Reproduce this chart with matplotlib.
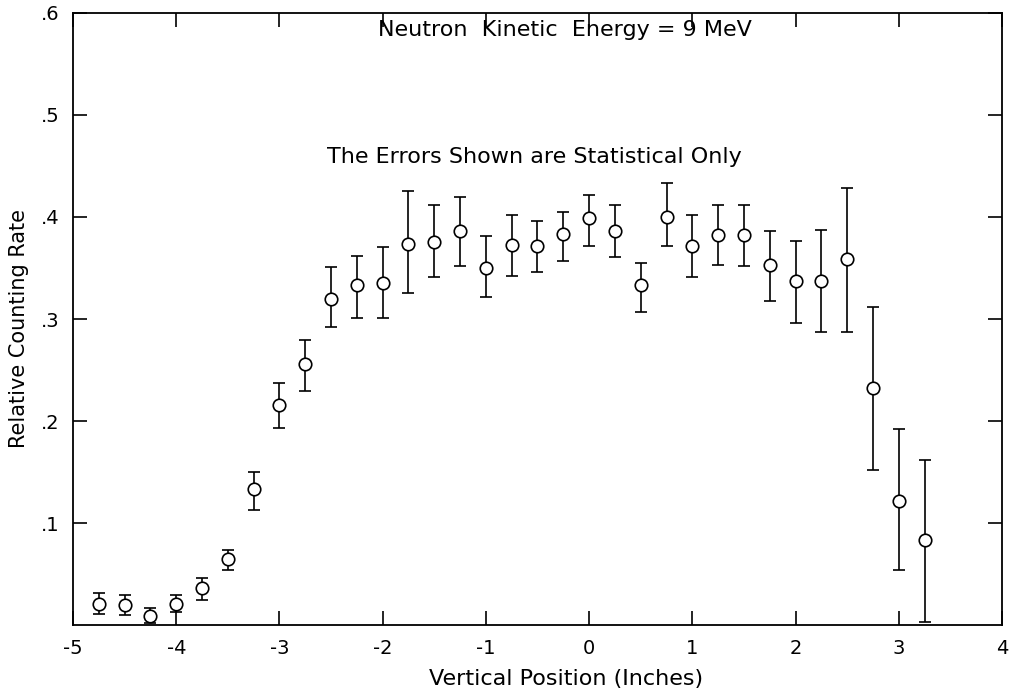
import matplotlib
matplotlib.use("Agg")
import matplotlib.pyplot as plt

x = [-4.75, -4.50, -4.25, -4.00, -3.75, -3.50, -3.25, -3.00, -2.75, -2.50, -2.25,
     -2.00, -1.75, -1.50, -1.25, -1.00, -0.75, -0.50, -0.25, 0.00, 0.25, 0.50,
     0.75, 1.00, 1.25, 1.50, 1.75, 2.00, 2.25, 2.50, 2.75, 3.00, 3.25]
y = [0.021, 0.020, 0.009, 0.021, 0.036, 0.065, 0.133, 0.216, 0.256, 0.320, 0.333,
     0.335, 0.374, 0.375, 0.386, 0.350, 0.373, 0.372, 0.383, 0.399, 0.386, 0.333,
     0.400, 0.372, 0.382, 0.382, 0.353, 0.337, 0.337, 0.359, 0.232, 0.122, 0.083]
y_hi = [0.031, 0.029, 0.017, 0.029, 0.046, 0.074, 0.150, 0.237, 0.279, 0.351, 0.362,
        0.371, 0.425, 0.412, 0.420, 0.381, 0.402, 0.396, 0.405, 0.422, 0.412, 0.355,
        0.433, 0.402, 0.412, 0.412, 0.386, 0.376, 0.387, 0.428, 0.312, 0.192, 0.162]
y_lo = [0.011, 0.010, 0.002, 0.013, 0.025, 0.054, 0.113, 0.193, 0.229, 0.292, 0.301,
        0.301, 0.325, 0.341, 0.352, 0.322, 0.342, 0.346, 0.357, 0.372, 0.361, 0.307,
        0.372, 0.341, 0.353, 0.352, 0.318, 0.296, 0.287, 0.287, 0.152, 0.054, 0.003]

x_ticks = [-5, -4, -3, -2, -1, 0, 1, 2, 3, 4]
y_ticks = [0.1, 0.2, 0.3, 0.4, 0.5, 0.6]
y_tick_labels = [".1", ".2", ".3", ".4", ".5", ".6"]

err_lo = [yi - lo for yi, lo in zip(y, y_lo)]
err_hi = [hi - yi for yi, hi in zip(y, y_hi)]

plt.rcParams['font.family'] = ['DejaVu Sans']
fig = plt.figure(figsize=(10.13, 6.91), dpi=100)
ax = fig.add_axes([0.0721, 0.0955, 0.917, 0.8857])

ax.errorbar(x, y, yerr=[err_lo, err_hi], fmt='o', mfc='white', mec='black',
            ms=9, mew=1.2, ecolor='black', elinewidth=1.2, capsize=4.5,
            capthick=1.5, color='black')

ax.set_xlim(-5, 4)
ax.set_ylim(0, 0.6)
ax.set_xticks(x_ticks)
ax.set_xticklabels([str(t) for t in x_ticks])
ax.set_yticks(y_ticks)
ax.set_yticklabels(y_tick_labels)
ax.tick_params(direction='in', length=10, width=1.2, top=True, right=True,
               labelsize=14, pad=10)
for s in ax.spines.values():
    s.set_linewidth(1.3)

ax.set_xlabel("Vertical Position (Inches)", fontsize=16, labelpad=3)
ax.xaxis.set_label_coords(0.531, -0.072)
ax.set_ylabel("Relative Counting Rate", fontsize=15, labelpad=8)
ax.yaxis.set_label_coords(-0.047, 0.485)

ax.text(0.530, 0.972, "Neutron  Kinetic  Energy = 9 MeV", transform=ax.transAxes,
        ha='center', va='center', fontsize=16)
ax.text(0.497, 0.765, "The Errors Shown are Statistical Only", transform=ax.transAxes,
        ha='center', va='center', fontsize=16)

fig.savefig("out.png", dpi=100)
